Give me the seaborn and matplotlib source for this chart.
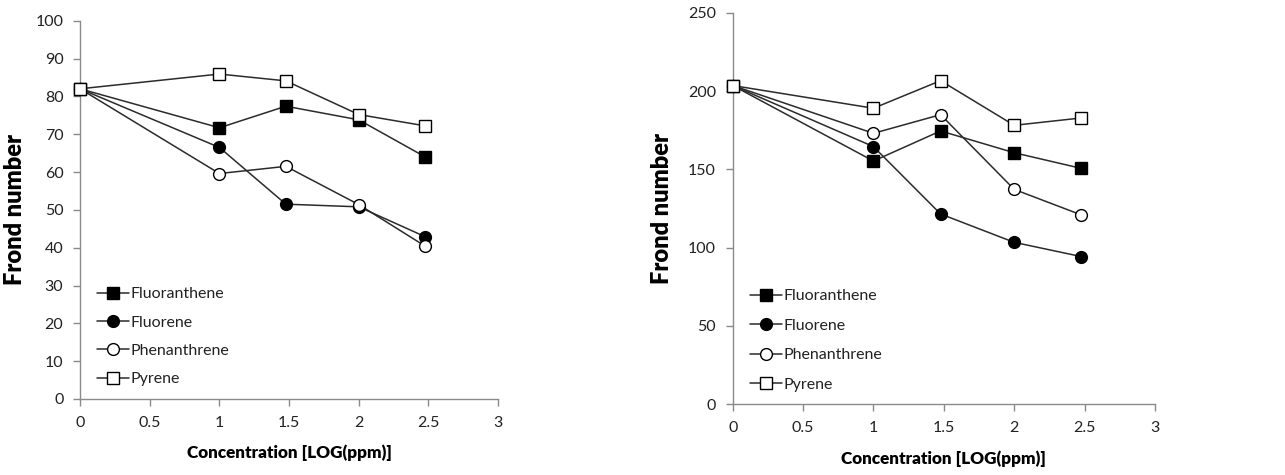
import matplotlib
matplotlib.use("Agg")
import matplotlib.pyplot as plt
import seaborn as sns
import pandas as pd
from matplotlib.lines import Line2D

sns.set_style("white")
plt.rcParams['font.family'] = ['Lato', 'DejaVu Sans']

conc = [0, 1, 1.477, 2, 2.477]
compounds = ["Fluoranthene", "Fluorene", "Phenanthrene", "Pyrene"]

left_fluoranthene = [82.0, 71.7, 77.4, 73.8, 64.0]
left_fluorene = [82.0, 66.5, 51.5, 50.8, 42.9]
left_phenanthrene = [82.0, 59.6, 61.5, 51.4, 40.4]
left_pyrene = [82.0, 85.9, 84.1, 75.2, 72.2]

right_fluoranthene = [203.5, 155.3, 174.5, 160.6, 150.6]
right_fluorene = [203.5, 164.5, 121.5, 103.4, 94.3]
right_phenanthrene = [203.5, 173.0, 184.9, 137.2, 120.9]
right_pyrene = [203.5, 189.0, 206.6, 178.1, 182.8]

x_ticks = [0, 0.5, 1, 1.5, 2, 2.5, 3]
x_tick_labels = ["0", "0.5", "1", "1.5", "2", "2.5", "3"]
left_y_ticks = list(range(0, 101, 10))
right_y_ticks = list(range(0, 251, 50))

marker_style = {
    "Fluoranthene": ("s", "black", 9),
    "Fluorene": ("o", "black", 8.5),
    "Phenanthrene": ("o", "white", 8.5),
    "Pyrene": ("s", "white", 9),
}

def make_df(vals):
    rows = []
    for name, v in zip(compounds, vals):
        for xv, yv in zip(conc, v):
            rows.append({"conc": xv, "frond": yv, "compound": name})
    return pd.DataFrame(rows)

left_df = make_df([left_fluoranthene, left_fluorene, left_phenanthrene, left_pyrene])
right_df = make_df([right_fluoranthene, right_fluorene, right_phenanthrene, right_pyrene])

fig = plt.figure(figsize=(12.85, 4.75), dpi=100)
ax1 = fig.add_axes([0.0623, 0.16, 0.3253, 0.7964])
ax2 = fig.add_axes([0.5702, 0.1488, 0.3286, 0.8245])

line_color = "#2b2b2b"
spine_color = "#8a8a8a"

def draw(ax, df, yticks, ylim, ylabel_x, legend_anchor, spacing):
    for name in compounds:
        m, fc, ms = marker_style[name]
        sub = df[df["compound"] == name]
        sns.lineplot(data=sub, x="conc", y="frond", ax=ax, color=line_color,
                     marker=m, markersize=ms, markerfacecolor=fc,
                     markeredgecolor="black", markeredgewidth=1.0,
                     linewidth=1.1, clip_on=False, legend=False, zorder=3)
    ax.set_xlim(0, 3)
    ax.set_ylim(*ylim)
    ax.set_xticks(x_ticks)
    ax.set_xticklabels(x_tick_labels)
    ax.set_yticks(yticks)
    ax.set_yticklabels([str(t) for t in yticks])
    for s in ["top", "right"]:
        ax.spines[s].set_visible(False)
    for s in ["left", "bottom"]:
        ax.spines[s].set_color(spine_color)
        ax.spines[s].set_linewidth(1.0)
    ax.tick_params(axis="both", which="major", direction="out", length=5,
                   width=1.0, color=spine_color, labelsize=11.5,
                   labelcolor="#222222", pad=7, left=True, bottom=True)
    ax.set_xlabel("Concentration [LOG(ppm)]", fontsize=12.3, fontweight="heavy",
                  labelpad=11, color="black")
    ax.set_ylabel("Frond number", fontsize=17, fontweight="heavy", color="black")
    ax.yaxis.set_label_coords(ylabel_x, 0.5)
    handles = []
    for name in compounds:
        m, fc, ms = marker_style[name]
        handles.append(Line2D([0], [0], color=line_color, linewidth=1.1, marker=m,
                              markersize=ms, markerfacecolor=fc,
                              markeredgecolor="black"))
    leg = ax.legend(handles, compounds, loc="upper left", bbox_to_anchor=legend_anchor,
                    frameon=False, fontsize=11.5, handlelength=2.0,
                    handletextpad=0.12, labelspacing=spacing, borderaxespad=0)
    for t in leg.get_texts():
        t.set_color("#222222")

draw(ax1, left_df, left_y_ticks, (0, 100), -0.13, (0.025, 0.313), 0.89)
draw(ax2, right_df, right_y_ticks, (0, 250), -0.142, (0.025, 0.31), 0.95)

fig.savefig("out.png", dpi=100)
